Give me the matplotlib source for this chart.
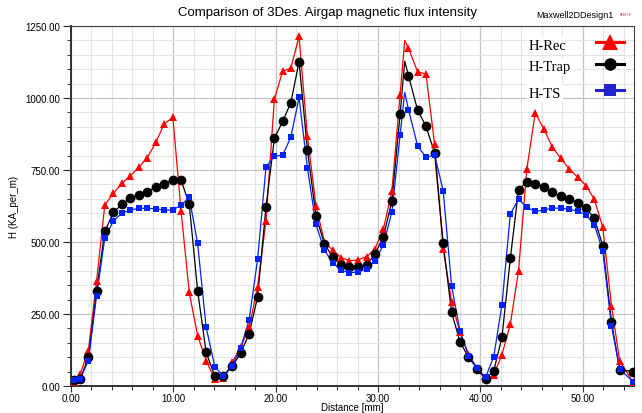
import numpy as np
import matplotlib.pyplot as plt
from matplotlib.ticker import MultipleLocator, FormatStrFormatter
from matplotlib.lines import Line2D

# sample positions along the airgap [mm]
dist = [0.25, 0.9, 1.7, 2.5, 3.3, 4.15, 4.98, 5.8, 6.62, 7.45, 8.3, 9.1, 9.95,
        10.75, 11.55, 12.37, 13.2, 14.05, 14.88, 15.75, 16.57, 17.4, 18.23, 19.05,
        19.87, 20.68, 21.47, 22.28, 23.1, 23.93, 24.75, 25.58, 26.4, 27.2, 28.03,
        28.88, 29.7, 30.52, 31.35, 32.15, 32.97, 33.86, 34.68, 35.52, 36.36, 37.18,
        38.0, 38.83, 39.7, 40.5, 41.3, 42.1, 42.92, 43.72, 44.53, 45.35, 46.2,
        47.03, 47.85, 48.68, 49.5, 50.3, 51.12, 51.95, 52.8, 53.6, 54.9]

h_rec = [15, 42, 123, 365, 628, 669, 704, 730, 759, 793, 846, 910, 933,
         609, 325, 175, 88, 25, 28, 82, 134, 204, 343, 574,
         997, 1093, 1103, 1214, 867, 626, 501, 471, 446, 435, 438,
         449, 476, 545, 678, 1012, 1173, 1091, 1083, 840, 476, 293,
         186, 111, 59, 24, 38, 109, 215, 400, 753, 948, 892,
         829, 790, 753, 725, 696, 649, 551, 279, 88, 14]

h_trap = [21, 24, 100, 331, 537, 603, 631, 653, 663, 675, 690, 701, 716,
          715, 632, 331, 117, 34, 34, 68, 114, 181, 310, 623,
          860, 919, 983, 1126, 819, 591, 494, 447, 419, 412, 412,
          420, 458, 518, 643, 944, 1077, 958, 902, 809, 495, 256,
          154, 100, 59, 24, 53, 169, 443, 682, 709, 701, 690,
          673, 659, 649, 636, 619, 582, 487, 223, 57, 50]

h_ts = [21, 24, 88, 314, 513, 574, 600, 611, 617, 617, 615, 611, 611,
        628, 655, 495, 204, 67, 34, 70, 132, 230, 440, 761,
        797, 802, 863, 1002, 756, 561, 472, 427, 402, 392, 397,
        406, 435, 490, 605, 872, 960, 834, 794, 802, 678, 348,
        190, 105, 61, 30, 102, 282, 597, 649, 620, 606, 611,
        618, 617, 614, 607, 594, 560, 470, 209, 59, 15]

# line peaks near 32.6 mm that carry no marker
peak_x = 32.6
peak_rec, peak_trap, peak_ts = 1200, 1128, 1020


def with_peak(x, y, px, py):
    xs = list(x) + [px]
    ys = list(y) + [py]
    order = np.argsort(xs)
    return np.array(xs)[order], np.array(ys)[order]


fig = plt.figure(figsize=(6.42, 4.14), dpi=100)
ax = fig.add_axes([71/642, 1 - 387/414, 563/642, 360/414])

ax.set_xlim(0, 55)
ax.set_ylim(0, 1250)

ax.xaxis.set_major_locator(MultipleLocator(10))
ax.xaxis.set_minor_locator(MultipleLocator(2))
ax.yaxis.set_major_locator(MultipleLocator(250))
ax.yaxis.set_minor_locator(MultipleLocator(50))
ax.xaxis.set_major_formatter(FormatStrFormatter('%.2f'))
ax.yaxis.set_major_formatter(FormatStrFormatter('%.2f'))

ax.grid(True, which='major', color='#c4c4c4', linewidth=0.9)
ax.grid(True, which='minor', color='#e4e4e4', linewidth=0.8)
ax.set_axisbelow(True)

series = [
    (h_rec, peak_rec, 'red', '^', 6.2),
    (h_trap, peak_trap, 'black', 'o', 7),
    (h_ts, peak_ts, '#0022ff', 's', 4.6),
]
for vals, pk, col, mk, ms in series:
    lx, ly = with_peak(dist, vals, peak_x, pk)
    ax.plot(lx, ly, color=col, linewidth=0.9, zorder=3)
    ax.plot(dist, vals, linestyle='none', marker=mk, markersize=ms,
            color=col, markeredgewidth=0, zorder=4)

for side in ['top', 'right']:
    ax.spines[side].set_color('#404040')
    ax.spines[side].set_linewidth(0.8)
for side in ['left', 'bottom']:
    ax.spines[side].set_color('#303030')
    ax.spines[side].set_linewidth(1.4)

ax.tick_params(axis='y', which='major', direction='out', length=6, width=0.8,
               colors='#303030', labelsize=7, labelcolor='black', pad=2)
ax.tick_params(axis='x', which='major', direction='out', length=4, width=0.8,
               colors='#303030', labelsize=7, labelcolor='black', pad=1)
ax.tick_params(which='minor', direction='out', length=3, width=0.7, colors='#303030')
for lab in ax.get_xticklabels() + ax.get_yticklabels():
    lab.set_fontfamily('Liberation Sans')

ax.set_xlabel('Distance [mm]', fontsize=7, family='Liberation Sans', labelpad=-0.5)
ax.set_ylabel('H (KA_per_m)', fontsize=7, family='Liberation Sans', labelpad=4)

fig.text(327/642, 1 - 13/414, 'Comparison of 3Des. Airgap magnetic flux intensity',
         ha='center', va='center', fontsize=9.5, family='Liberation Sans')
fig.text(575/642, 1 - 16/414, 'Maxwell2DDesign1', ha='center', va='center',
         fontsize=6.5, family='Liberation Sans')
fig.text(626/642, 1 - 15/414, 'ANSYS', ha='center', va='center',
         fontsize=2.5, color='#b04040', family='Liberation Sans')

# legend, drawn by hand in figure coordinates
names = ['H-Rec', 'H-Trap', 'H-TS']
leg_y = [46, 68, 94]
leg_mk = [('red', '^', 11), ('black', 'o', 9), ('#2222cc', 's', 8)]
for name, yy, (col, mk, ms) in zip(names, leg_y, leg_mk):
    fig.text(529/642, 1 - yy/414, name, ha='left', va='center', fontsize=10.5,
             family='Liberation Serif',
             bbox=dict(facecolor='white', edgecolor='none', pad=1.5))
    my = 1 - (yy - 3)/414
    fig.add_artist(Line2D([596/642, 624/642], [my, my], color=col, linewidth=2.2,
                          transform=fig.transFigure))
    fig.add_artist(Line2D([610/642], [my], color=col, marker=mk, markersize=ms,
                          markeredgewidth=0, linestyle='none',
                          transform=fig.transFigure))

fig.savefig('out.png', dpi=100)
